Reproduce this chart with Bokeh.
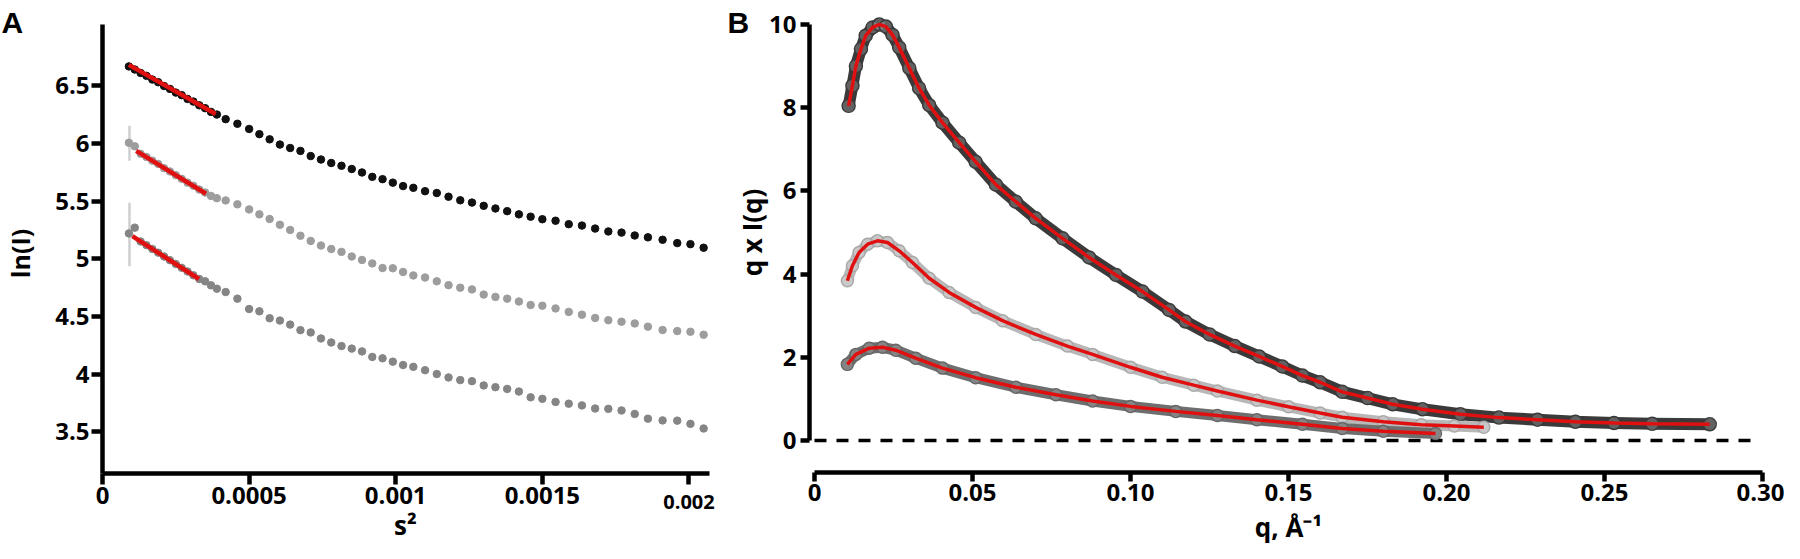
import math
from bokeh.plotting import figure
from bokeh.layouts import row
from bokeh.models import FixedTicker, Label, Range1d
from bokeh.embed import file_html
from bokeh.resources import INLINE

# ---------------- Panel A data (Guinier plot) ----------------
s2 = [0.00009, 0.00011, 0.00013, 0.00015, 0.00017, 0.00019, 0.00021, 0.00023,
      0.00025, 0.00027, 0.00029, 0.00031, 0.00033, 0.00035, 0.00037, 0.00039,
      0.00042, 0.00046, 0.00050, 0.000535, 0.00057, 0.000605, 0.00064, 0.000675,
      0.00071, 0.000745, 0.00078, 0.000815, 0.00085, 0.000885, 0.00092, 0.000955,
      0.00099, 0.001025, 0.00106, 0.00110, 0.00114, 0.00118, 0.00122, 0.00126,
      0.00130, 0.00134, 0.00138, 0.00142, 0.00146, 0.00150, 0.001545, 0.00159,
      0.001635, 0.00168, 0.001725, 0.00177, 0.001815, 0.00186, 0.00191, 0.00196,
      0.002005, 0.00205]
ln_black = [6.667, 6.64, 6.61, 6.585, 6.553, 6.53, 6.497, 6.472,
            6.44, 6.418, 6.385, 6.362, 6.33, 6.305, 6.273, 6.25,
            6.21, 6.17, 6.125, 6.08, 6.035, 5.99, 5.96, 5.935,
            5.89, 5.86, 5.83, 5.806, 5.778, 5.748, 5.71, 5.69,
            5.66, 5.63, 5.615, 5.586, 5.57, 5.538, 5.507, 5.487,
            5.459, 5.436, 5.413, 5.385, 5.365, 5.343, 5.33, 5.30,
            5.288, 5.262, 5.237, 5.227, 5.202, 5.186, 5.165, 5.136,
            5.127, 5.096]
ln_gray_light = [6.005, 5.975, 5.91, 5.882, 5.85, 5.822, 5.785, 5.757,
                 5.725, 5.693, 5.66, 5.633, 5.60, 5.574, 5.545, 5.525,
                 5.506, 5.472, 5.428, 5.385, 5.345, 5.295, 5.25, 5.20,
                 5.155, 5.115, 5.085, 5.06, 5.02, 4.99, 4.96, 4.92,
                 4.918, 4.886, 4.856, 4.838, 4.805, 4.772, 4.75, 4.735,
                 4.69, 4.67, 4.655, 4.63, 4.60, 4.594, 4.57, 4.54,
                 4.516, 4.488, 4.468, 4.455, 4.44, 4.412, 4.383, 4.374,
                 4.368, 4.342]
ln_gray_dark = [5.22, 5.27, 5.15, 5.118, 5.085, 5.053, 5.02, 4.988,
                4.955, 4.922, 4.89, 4.857, 4.825, 4.805, 4.77, 4.741,
                4.712, 4.655, 4.565, 4.545, 4.485, 4.465, 4.43, 4.382,
                4.362, 4.31, 4.275, 4.244, 4.222, 4.198, 4.15, 4.138,
                4.109, 4.08, 4.064, 4.035, 4.002, 3.972, 3.949, 3.94,
                3.903, 3.888, 3.873, 3.85, 3.80, 3.787, 3.76, 3.745,
                3.73, 3.703, 3.70, 3.686, 3.656, 3.615, 3.60, 3.598,
                3.57, 3.53]
fit_black_x = [0.00009, 0.000386]
fit_black_y = [6.68, 6.254]
fit_light_x = [0.000115, 0.000353]
fit_light_y = [5.935, 5.564]
fit_dark_x = [0.000102, 0.000329]
fit_dark_y = [5.196, 4.825]
err_x = [0.000092, 0.000092]
err_lo = [5.85, 4.935]
err_hi = [6.152, 5.486]

a_xticks = [0, 0.0005, 0.001, 0.0015, 0.002]
a_xlabels = ["0", "0.0005", "0.001", "0.0015", "0.002"]
a_yticks = [3.5, 4, 4.5, 5, 5.5, 6, 6.5]
a_ylabels = ["3.5", "4", "4.5", "5", "5.5", "6", "6.5"]

# ---------------- Panel B data (q*I(q)) ----------------
q_top = [0.0108, 0.012, 0.0131, 0.0147, 0.0162, 0.0184, 0.0205, 0.0226, 0.0247, 0.0268,
         0.030, 0.0331, 0.0363, 0.0405, 0.0458, 0.051, 0.0574, 0.0637, 0.070, 0.0785,
         0.0869, 0.0954, 0.1038, 0.1122, 0.1174, 0.125, 0.133, 0.1407, 0.148, 0.1544,
         0.160, 0.167, 0.175, 0.183, 0.1924, 0.2044, 0.2166, 0.2288, 0.2408, 0.253,
         0.2651, 0.2833]
qi_top = [8.045, 8.53, 9.0, 9.41, 9.73, 9.93, 10.0, 9.95, 9.75, 9.45,
          8.95, 8.47, 8.06, 7.64, 7.16, 6.70, 6.15, 5.74, 5.34, 4.86,
          4.40, 3.98, 3.58, 3.14, 2.86, 2.55, 2.27, 2.02, 1.78, 1.56,
          1.40, 1.17, 1.02, 0.87, 0.75, 0.63, 0.55, 0.50, 0.45, 0.42,
          0.40, 0.39]
q_mid = [0.0104, 0.012, 0.0141, 0.0168, 0.0199, 0.0231, 0.0268, 0.031, 0.0363, 0.0426,
         0.051, 0.0595, 0.070, 0.080, 0.088, 0.100, 0.110, 0.120, 0.1275, 0.140,
         0.150, 0.160, 0.167, 0.180, 0.192, 0.2025, 0.2118]
qi_mid = [3.84, 4.20, 4.52, 4.72, 4.80, 4.76, 4.56, 4.28, 3.90, 3.56,
          3.20, 2.88, 2.55, 2.27, 2.07, 1.76, 1.52, 1.33, 1.19, 0.97,
          0.81, 0.66, 0.56, 0.45, 0.38, 0.35, 0.32]
q_low = [0.0104, 0.0131, 0.0173, 0.0215, 0.0257, 0.032, 0.0405, 0.051, 0.0637, 0.0764,
         0.088, 0.100, 0.1143, 0.1275, 0.140, 0.1544, 0.167, 0.180, 0.1965]
qi_low = [1.83, 2.07, 2.22, 2.24, 2.17, 1.98, 1.74, 1.51, 1.28, 1.10,
          0.95, 0.82, 0.70, 0.60, 0.50, 0.39, 0.29, 0.22, 0.17]
zero_q = [0.0, 0.297]
zero_v = [0.0, 0.0]

b_xticks = [0, 0.05, 0.10, 0.15, 0.20, 0.25, 0.30]
b_xlabels = ["0", "0.05", "0.10", "0.15", "0.20", "0.25", "0.30"]
b_yticks = [0, 2, 4, 6, 8, 10]
b_ylabels = ["0", "2", "4", "6", "8", "10"]

RED = "#e01010"
FONT = "Open Sans"

# ---- layout geometry (pixels) ----
WA, WB, H = 725, 1059, 543
ax_px = 607 / 0.00207   # px per unit s^2 in panel A
ay_px = 449 / 3.89      # px per ln unit in panel A
bx_px = 3160.0          # px per unit q in panel B
by_px = 41.6            # px per unit q*I(q) in panel B


def style_axes(p, tick_out):
    for ax in p.axis:
        ax.axis_line_width = 4.5
        ax.axis_line_color = "black"
        ax.major_tick_line_width = 4.5
        ax.major_tick_line_color = "black"
        ax.major_tick_out = tick_out
        ax.major_tick_in = 0
        ax.minor_tick_line_color = None
        ax.major_label_text_font = FONT
        ax.major_label_text_font_style = "bold"
        ax.major_label_text_font_size = "24px"
        ax.major_label_text_color = "black"
    p.xgrid.visible = False
    p.ygrid.visible = False
    p.outline_line_color = None
    p.background_fill_color = "white"
    p.border_fill_color = "white"


def lab(p, x, y, text, size="26px", font=FONT, angle=0.0, align="center", baseline="middle"):
    p.add_layout(Label(x=x, y=y, text=text, text_font=font, text_font_style="bold",
                       text_font_size=size, text_align=align, text_baseline=baseline,
                       angle=angle, text_color="black"))


# ---------------- Panel A ----------------
pA = figure(width=WA, height=H,
            x_range=Range1d(-102 / ax_px, (WA - 102) / ax_px),
            y_range=Range1d(3.14 - 70 / ay_px, 7.03 + 24 / ay_px),
            output_backend="svg", toolbar_location=None, title=None,
            min_border_left=0, min_border_right=0, min_border_top=0, min_border_bottom=0)
style_axes(pA, 11)
pA.xaxis.fixed_location = 3.14
pA.xaxis.bounds = (0, 0.00207)
pA.yaxis.fixed_location = 0
pA.yaxis.bounds = (3.14, 7.03)
pA.xaxis.ticker = FixedTicker(ticks=a_xticks)
ovA = dict(zip(a_xticks, a_xlabels))
ovA[0.002] = ""
pA.xaxis.major_label_overrides = ovA
pA.xaxis.major_label_standoff = 2
pA.yaxis.ticker = FixedTicker(ticks=a_yticks)
pA.yaxis.major_label_overrides = dict(zip(a_yticks, a_ylabels))
pA.yaxis.major_label_standoff = 2

pA.segment(x0=err_x, y0=err_lo, x1=err_x, y1=err_hi, line_color="#cfcfcf", line_width=2.5)
pA.scatter(s2, ln_gray_dark, size=7.5, color="#858585")
pA.scatter(s2, ln_gray_light, size=7.5, color="#9d9d9d")
pA.scatter(s2, ln_black, size=7.5, color="#111111")
pA.line(fit_black_x, fit_black_y, line_color=RED, line_width=4.5)
pA.line(fit_light_x, fit_light_y, line_color=RED, line_width=4.5)
pA.line(fit_dark_x, fit_dark_y, line_color=RED, line_width=4.5)

lab(pA, -101 / ax_px, 7.03 + 2 / ay_px, "A", size="30px", font="Liberation Sans",
    align="left", baseline="alphabetic")
lab(pA, -83 / ax_px, 3.14 + 220 / ay_px, "ln(I)", size="25px", angle=math.pi / 2)
lab(pA, 303 / ax_px, 3.14 - 51 / ay_px, "s²")
lab(pA, 0.002, 3.14 - 28.5 / ay_px, "0.002", size="20px")

# ---------------- Panel B ----------------
pB = figure(width=WB, height=H,
            x_range=Range1d(-89 / bx_px, (WB - 89) / bx_px),
            y_range=Range1d(-103 / by_px, 440 / by_px),
            output_backend="svg", toolbar_location=None, title=None,
            min_border_left=0, min_border_right=0, min_border_top=0, min_border_bottom=0)
style_axes(pB, 9)
pB.xaxis.fixed_location = -32 / by_px
pB.xaxis.bounds = (0, 0.30)
pB.yaxis.fixed_location = -5 / bx_px
pB.yaxis.bounds = (0, 10)
pB.xaxis.ticker = FixedTicker(ticks=b_xticks)
pB.xaxis.major_label_overrides = dict(zip(b_xticks, b_xlabels))
pB.xaxis.major_label_standoff = 2
pB.yaxis.ticker = FixedTicker(ticks=b_yticks)
pB.yaxis.major_label_overrides = dict(zip(b_yticks, b_ylabels))
pB.yaxis.major_label_standoff = 4

pB.line(zero_q, zero_v, line_color="black", line_width=3.5, line_dash="12 10")

pB.line(q_top, qi_top, line_color="#3a3a3a", line_width=12, line_join="round", line_cap="round")
pB.scatter(q_top, qi_top, size=13, line_color="#3a3a3a", fill_color="#dddddd", fill_alpha=0.25, line_width=1.5)
pB.line(q_mid, qi_mid, line_color="#b8b8b8", line_width=11, line_join="round", line_cap="round")
pB.scatter(q_mid, qi_mid, size=12, line_color="#a8a8a8", fill_color="#eeeeee", fill_alpha=0.3, line_width=1.5)
pB.line(q_low, qi_low, line_color="#6e6e6e", line_width=11, line_join="round", line_cap="round")
pB.scatter(q_low, qi_low, size=12, line_color="#666666", fill_color="#cccccc", fill_alpha=0.25, line_width=1.5)

pB.line(q_top, qi_top, line_color=RED, line_width=3.5)
pB.line(q_mid, qi_mid, line_color=RED, line_width=3.5)
pB.line(q_low, qi_low, line_color=RED, line_width=3.5)

lab(pB, -87 / bx_px, 418 / by_px, "B", size="30px", font="Liberation Sans",
    align="left", baseline="alphabetic")
lab(pB, -63 / bx_px, 208 / by_px, "q x I(q)", angle=math.pi / 2)
lab(pB, 0.15, -86 / by_px, "q, Å⁻¹")

layout = row(pA, pB)
open("out.html", "w").write(file_html(layout, INLINE))
